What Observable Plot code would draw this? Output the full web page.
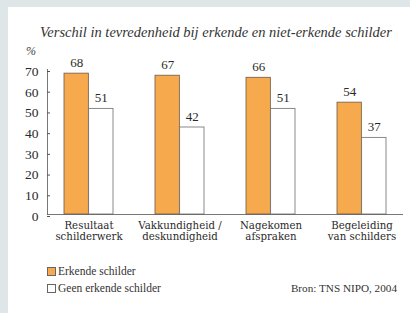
<!DOCTYPE html>
<html>
<head>
<meta charset="utf-8">
<script src="https://cdn.jsdelivr.net/npm/d3@7"></script>
<script src="https://cdn.jsdelivr.net/npm/@observablehq/plot@0.6"></script>
<style>
  html, body { margin: 0; padding: 0; }
  body { width: 410px; height: 313px; background: #dfe6e8; position: relative; overflow: hidden; font-family: "Liberation Serif", "DejaVu Serif", serif; color: #2a2a2a; }
  #panel { position: absolute; left: 8px; top: 7px; right: 0; bottom: 0; background: #fff; }
  #title { position: absolute; left: 8px; right: 0; top: 24px; text-align: center; font-style: italic; font-size: 14.5px; color: #333; padding-left: 14px; font-family: "Liberation Serif", serif; }
  #pct { position: absolute; left: 26px; top: 44px; font-size: 12px; font-style: italic; color: #444; }
  #chart { position: absolute; left: 0; top: 0; }
  .leg { position: absolute; left: 47px; font-size: 11.5px; color: #333; display: flex; align-items: center; }
  .sw { width: 9px; height: 9px; border: 0.8px solid #666; margin-right: 2px; box-sizing: border-box; }
  #src { position: absolute; right: 13px; top: 282px; font-size: 11.2px; color: #333; }
</style>
</head>
<body>
<div id="panel"></div>
<div id="title">Verschil in tevredenheid bij erkende en niet-erkende schilder</div>
<div id="pct">%</div>
<div id="chart"></div>
<div class="leg" style="top:265px"><div class="sw" style="background:#f7aa4d"></div>Erkende schilder</div>
<div class="leg" style="top:282px"><div class="sw" style="background:#fff"></div>Geen erkende schilder</div>
<div id="src">Bron: TNS NIPO, 2004</div>
<script>
const categories = ["Resultaat", "Vakkundigheid", "Nagekomen", "Begeleiding"];
const categoryLabels = ["Resultaat\nschilderwerk", "Vakkundigheid /\ndeskundigheid", "Nagekomen\nafspraken", "Begeleiding\nvan schilders"];
const erkend = [68, 67, 66, 54];
const nietErkend = [51, 42, 51, 37];
const yTicks = [0, 10, 20, 30, 40, 50, 60, 70];

const W = 410, H = 245;
const mL = 47, mR = 7, mT = 69, mB = 31;
const xOpts = {type: "band", domain: categories, paddingInner: 0.46, paddingOuter: 0.18};
const xs = Plot.scale({x: {...xOpts, range: [mL, W - mR]}});
const bw = xs.bandwidth;

const rowsA = categories.map((c, i) => ({cat: c, v: erkend[i]}));
const rowsB = categories.map((c, i) => ({cat: c, v: nietErkend[i]}));
const labelOf = Object.fromEntries(categories.map((c, i) => [c, categoryLabels[i]]));

const chart = Plot.plot({
  width: W, height: H,
  marginLeft: mL, marginRight: mR, marginTop: mT, marginBottom: mB,
  style: "background: transparent; font-family: 'Liberation Serif', serif; color: #2a2a2a;",
  x: {...xOpts, axis: null},
  y: {domain: [0, 70], axis: null},
  marks: [
    Plot.barY(rowsA, {x: "cat", y: "v", insetRight: bw / 2, fill: "#f7aa4d", stroke: "#6b5a45", strokeWidth: 0.8}),
    Plot.barY(rowsB, {x: "cat", y: "v", insetLeft: bw / 2, fill: "#fff", stroke: "#6b6b6b", strokeWidth: 0.8}),
    Plot.text(rowsA, {x: "cat", y: "v", text: "v", dx: -bw / 4, dy: -11, fontSize: 13, fill: "#2a2a2a"}),
    Plot.text(rowsB, {x: "cat", y: "v", text: "v", dx: bw / 4, dy: -11, fontSize: 13, fill: "#2a2a2a"}),
    Plot.axisY({ticks: yTicks, tickSize: -3, tickPadding: 12, fontSize: 13.5, stroke: "#555", fill: "#2a2a2a", label: null, dy: 2}),
    Plot.axisX({tickSize: 0, tickPadding: 7, fontSize: 10.2, fontFamily: "DejaVu Serif", fill: "#2a2a2a", tickFormat: d => labelOf[d], lineHeight: 1.05, label: null}),
    Plot.frame({anchor: "left", stroke: "#555", strokeWidth: 0.8}),
    Plot.ruleY([0], {stroke: "#555", strokeWidth: 0.8})
  ]
});
document.getElementById("chart").appendChild(chart);
</script>
</body>
</html>
